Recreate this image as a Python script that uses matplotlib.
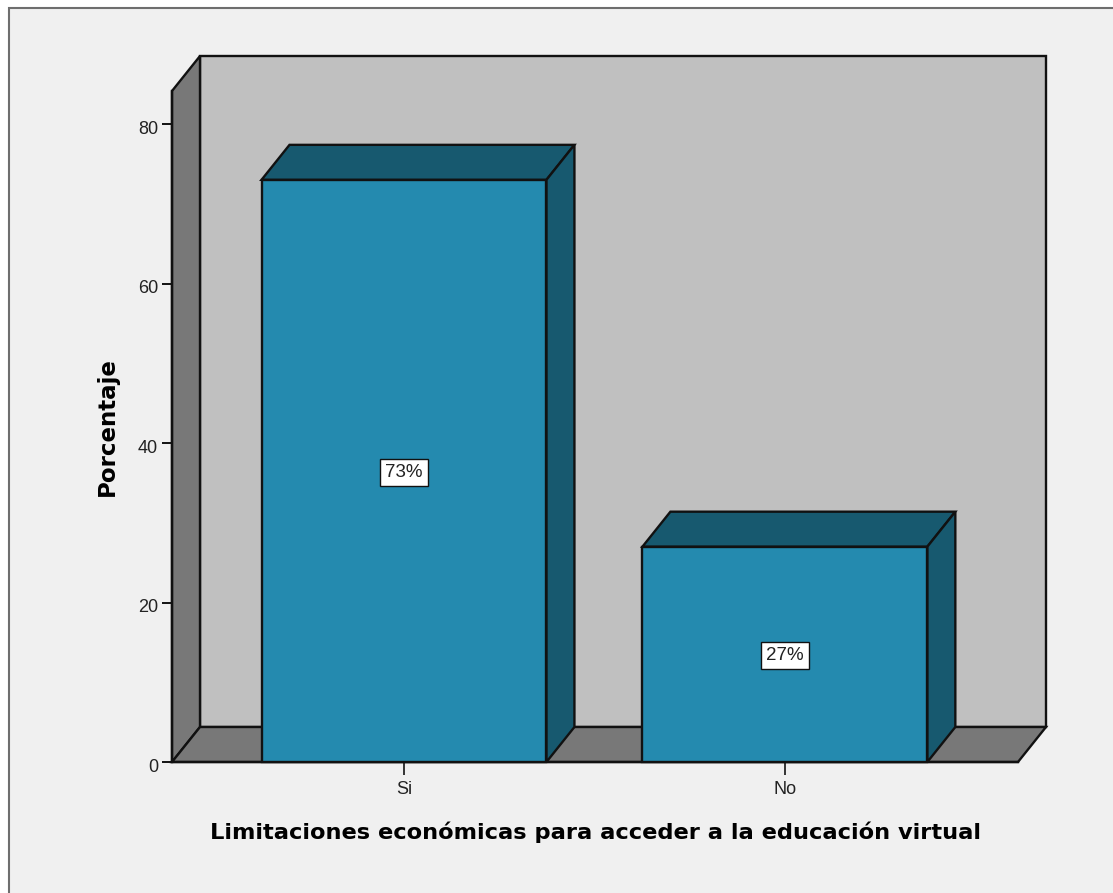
import matplotlib
matplotlib.use('Agg')
import matplotlib.pyplot as plt
from matplotlib.patches import Polygon, Rectangle
from matplotlib.transforms import ScaledTranslation

categories = ['Si', 'No']
values = [73, 27]
labels = ['73%', '27%']
y_ticks = [0, 20, 40, 60, 80]

W, H = 1113, 893
plt.rcParams['font.family'] = ['Liberation Sans', 'DejaVu Sans']

fig = plt.figure(figsize=(W/100, H/100), dpi=100, facecolor='white')

# outer grey panel
fig.add_artist(Rectangle((9/W, 1-900/H), (1125-9)/W, (900-8)/H, transform=fig.transFigure,
                         facecolor='#f0f0f0', edgecolor='#6e6e6e', lw=1.5, zorder=-1))

# axes = front plane of the 3d box
left, right, bottom, top = 172, 1018, 762, 91
ax = fig.add_axes([left/W, 1-bottom/H, (right-left)/W, (bottom-top)/H])
ax.patch.set_alpha(0)
ax.set_xlim(-0.609, 1.612)
ax.set_ylim(0, 84.14)

# depth of the box in data units
dx = 28/381
dy = 35/7.975
x0, x1 = ax.get_xlim()
y0, y1 = ax.get_ylim()
bar_w = 285/381
edge = '#111111'


def poly(pts, color, z):
    ax.add_patch(Polygon(pts, closed=True, facecolor=color, edgecolor=edge, lw=1.7,
                         zorder=z, clip_on=False))


# back wall, side wall, floor
poly([(x0+dx, y0+dy), (x1+dx, y0+dy), (x1+dx, y1+dy), (x0+dx, y1+dy)], '#c0c0c0', 1)
poly([(x0, y0), (x0+dx, y0+dy), (x0+dx, y1+dy), (x0, y1)], '#787878', 2)
poly([(x0, y0), (x1, y0), (x1+dx, y0+dy), (x0+dx, y0+dy)], '#787878', 2)

# bars
for i in range(len(values)):
    v = values[i]
    a = i - bar_w/2
    b = i + bar_w/2
    poly([(a, v), (b, v), (b+dx, v+dy), (a+dx, v+dy)], '#17596f', 3)
    poly([(b, 0), (b+dx, dy), (b+dx, v+dy), (b, v)], '#17596f', 3)
    poly([(a, 0), (b, 0), (b, v), (a, v)], '#248aaf', 4)
    ax.text(i, v/2-0.2, labels[i], ha='center', va='center', fontsize=13.5, color='#222222', zorder=5,
            bbox=dict(boxstyle='square,pad=0.27', facecolor='white', edgecolor='#111111', lw=1))

ax.set_xticks(range(len(categories)))
ax.set_xticklabels(categories)
ax.set_yticks(y_ticks)
ax.tick_params(axis='y', labelsize=13, length=7, width=1.4, color='#111111', labelcolor='#222222', pad=3)
ax.tick_params(axis='x', labelsize=13, length=9, width=1.4, color='#333333', labelcolor='#222222', pad=5)
# y tick labels sit a little below their ticks
for lab in ax.get_yticklabels():
    lab.set_transform(lab.get_transform() + ScaledTranslation(0, -3/100, fig.dpi_scale_trans))
for s in ['top', 'right']:
    ax.spines[s].set_visible(False)
for s in ['left', 'bottom']:
    ax.spines[s].set_linewidth(1.7)
    ax.spines[s].set_color('#111111')
    ax.spines[s].set_zorder(3)

fig.text(596/W, 1-832/H, 'Limitaciones económicas para acceder a la educación virtual',
         ha='center', va='center', fontsize=16.2, fontweight='bold', color='black', family='DejaVu Sans')
fig.text(107/W, 1-427/H, 'Porcentaje', rotation=90, ha='center', va='center',
         fontsize=16.5, fontweight='bold', color='black', family='DejaVu Sans')

fig.savefig('out.png', dpi=100)
